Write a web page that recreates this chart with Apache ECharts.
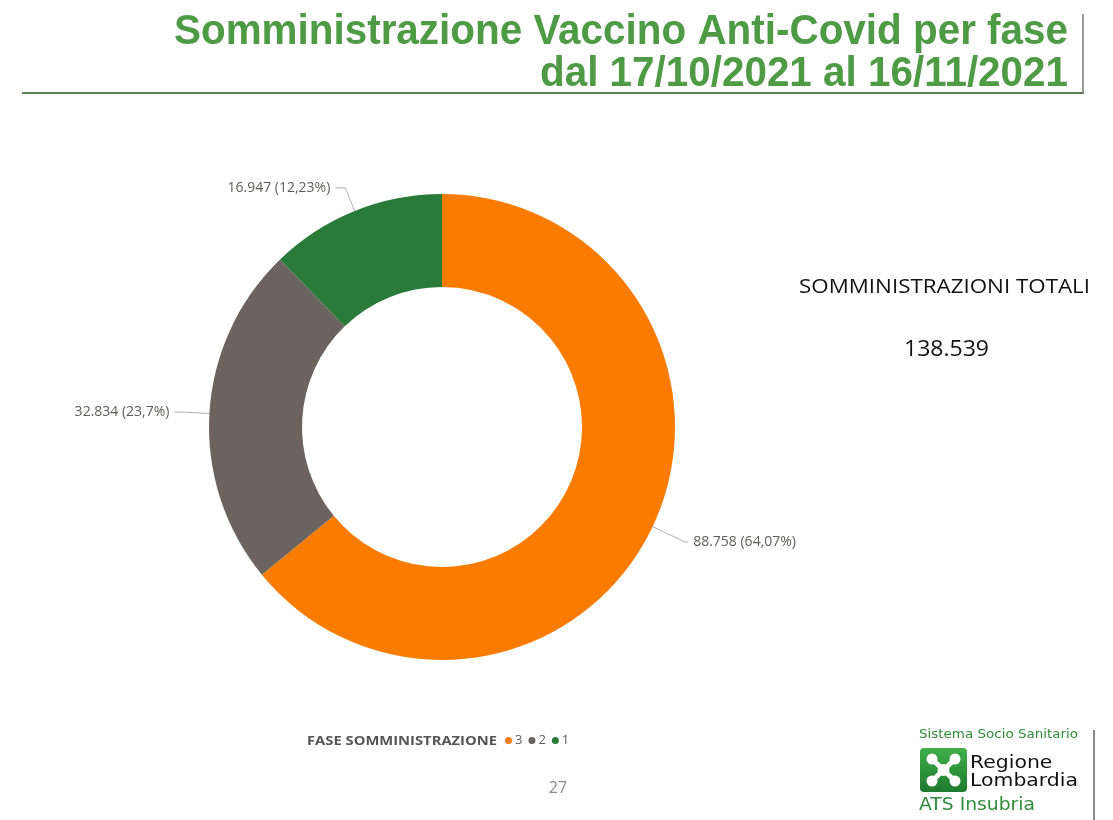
<!DOCTYPE html>
<html><head><meta charset="utf-8">
<script src="https://cdn.jsdelivr.net/npm/echarts@6/dist/echarts.min.js"></script>
<style>html,body{margin:0;padding:0;background:#fff}#c{width:1113px;height:820px}</style>
</head><body><div id="c"></div>
<script>
const phases = ['3', '2', '1'];
const values = [88758, 32834, 16947];
const colors = ['#F97B00', '#6B645E', '#2A7A3A'];
const titleLines = ['Somministrazione Vaccino Anti-Covid per fase', 'dal 17/10/2021 al 16/11/2021'];
const totalLabel = 'SOMMINISTRAZIONI TOTALI';
const legendTitle = 'FASE SOMMINISTRAZIONE';
const pageNumber = '27';

function fmtInt(n){ return String(Math.round(n)).replace(/\B(?=(\d{3})+(?!\d))/g, '.'); }
function fmtPct(p){ let s = (Math.round(p*100)/100).toString(); return s.replace('.', ','); }
const total = values.reduce((a,b)=>a+b,0);

const cv = document.createElement('canvas').getContext('2d');
function fitScale(text, font, target){ cv.font = font; return target / cv.measureText(text).width; }
const titleFont = 'bold 42px "Liberation Sans"';
const s1 = fitScale(titleLines[0], titleFont, 894);
const s2 = fitScale(titleLines[1], titleFont, 528);
const totFont = '20px "Open Sans"';
const sTot = fitScale(totalLabel, totFont, 291);
const numFont = '22px "Open Sans"';
const sNum = fitScale(fmtInt(total), numFont, 85);
const legFont = 'bold 13px "Open Sans"';
const sLeg = fitScale(legendTitle, legFont, 190);
const logoFont1 = '13px "DejaVu Sans"';
const sL1 = fitScale('Sistema Socio Sanitario', logoFont1, 159);
const logoFont2 = '18px "DejaVu Sans"';
const sL2 = fitScale('Lombardia', logoFont2, 108);
const logoFont3 = '17px "DejaVu Sans"';
const sL3 = fitScale('ATS Insubria', logoFont3, 116);

const chart = echarts.init(document.getElementById('c'), null, {renderer:'canvas'});
chart.setOption({
  animation: false,
  color: colors,
  legend: {
    left: 505, top: 734, padding: 0, itemGap: 6, itemWidth: 7, itemHeight: 7, icon: 'circle',
    textStyle: { fontFamily: 'Open Sans', fontSize: 13, color: '#605E5C', padding: [0, 0, 0, -2] },
    data: phases
  },
  series: [{
    type: 'pie',
    center: [442, 427],
    radius: [140, 233],
    startAngle: 90,
    clockwise: true,
    avoidLabelOverlap: false,
    label: {
      show: true,
      position: 'outside',
      fontFamily: 'Open Sans', fontSize: 14, color: '#605E5C',
      formatter: p => fmtInt(p.value) + ' (' + fmtPct(p.value/total*100) + '%)'
    },
    labelLine: { show: true, length: 25, length2: 10, lineStyle: { color: '#b0b0b0', width: 1 } },
    emphasis: { disabled: true },
    data: phases.map((p,i)=>({ name: p, value: values[i], labelLine: i === 0 ? { length: 36, length2: 3 } : undefined }))
  }],
  graphic: [
    { type:'text', x:1068, y:32, scaleX:s1, style:{ x:0, y:0, text:titleLines[0], textAlign:'right', textVerticalAlign:'middle', font:titleFont, fill:'#4E9A45' } },
    { type:'text', x:1068, y:74, scaleX:s2, style:{ x:0, y:0, text:titleLines[1], textAlign:'right', textVerticalAlign:'middle', font:titleFont, fill:'#4E9A45' } },
    { type:'line', shape:{ x1:22, y1:93, x2:1084, y2:93 }, style:{ stroke:'#5F7F5A', lineWidth:2 } },
    { type:'line', shape:{ x1:1083, y1:14, x2:1083, y2:93 }, style:{ stroke:'#7a7a7a', lineWidth:1.5 } },
    { type:'text', x:799, y:287, scaleX:sTot, style:{ x:0, y:0, text: totalLabel, textAlign:'left', textVerticalAlign:'middle', font:totFont, fill:'#111' } },
    { type:'text', x:904, y:350, scaleX:sNum, style:{ x:0, y:0, text: fmtInt(total), textAlign:'left', textVerticalAlign:'middle', font:numFont, fill:'#111' } },
    { type:'text', x:497, y:741, scaleX:sLeg, style:{ x:0, y:0, text: legendTitle, textAlign:'right', textVerticalAlign:'middle', font:legFont, fill:'#555' } },
    { type:'text', x:558, y:788, style:{ text: pageNumber, textAlign:'center', textVerticalAlign:'middle', font:'16px "Open Sans"', fill:'#8a8a8a' } },
    { type:'line', shape:{ x1:1094, y1:730, x2:1094, y2:820 }, style:{ stroke:'#8a8a8a', lineWidth:2 } },
    { type:'text', x:919, y:735, scaleX:sL1, style:{ x:0, y:0, text:'Sistema Socio Sanitario', textAlign:'left', textVerticalAlign:'middle', font:logoFont1, fill:'#2E8B3A' } },
    { type:'rect', shape:{ x:920, y:748, width:47, height:44, r:4 }, style:{ fill: new echarts.graphic.LinearGradient(0,0,0,1,[{offset:0,color:'#3FAE4A'},{offset:1,color:'#1E7A2E'}]) } },
    { type:'circle', shape:{ cx:943.5, cy:770, r:6 }, style:{ fill:'#fff' } },
    { type:'circle', shape:{ cx:932, cy:759, r:5.5 }, style:{ fill:'#fff' } },
    { type:'circle', shape:{ cx:955, cy:759, r:5.5 }, style:{ fill:'#fff' } },
    { type:'circle', shape:{ cx:932, cy:781, r:5.5 }, style:{ fill:'#fff' } },
    { type:'circle', shape:{ cx:955, cy:781, r:5.5 }, style:{ fill:'#fff' } },
    { type:'line', shape:{ x1:932, y1:759, x2:955, y2:781 }, style:{ stroke:'#fff', lineWidth:5 } },
    { type:'line', shape:{ x1:955, y1:759, x2:932, y2:781 }, style:{ stroke:'#fff', lineWidth:5 } },
    { type:'text', x:970, y:763, scaleX:sL2, style:{ x:0, y:0, text:'Regione', textAlign:'left', textVerticalAlign:'middle', font:logoFont2, fill:'#111' } },
    { type:'text', x:970, y:781, scaleX:sL2, style:{ x:0, y:0, text:'Lombardia', textAlign:'left', textVerticalAlign:'middle', font:logoFont2, fill:'#111' } },
    { type:'text', x:919, y:806, scaleX:sL3, style:{ x:0, y:0, text:'ATS Insubria', textAlign:'left', textVerticalAlign:'middle', font:logoFont3, fill:'#2E8B3A' } }
  ]
});
</script></body></html>
